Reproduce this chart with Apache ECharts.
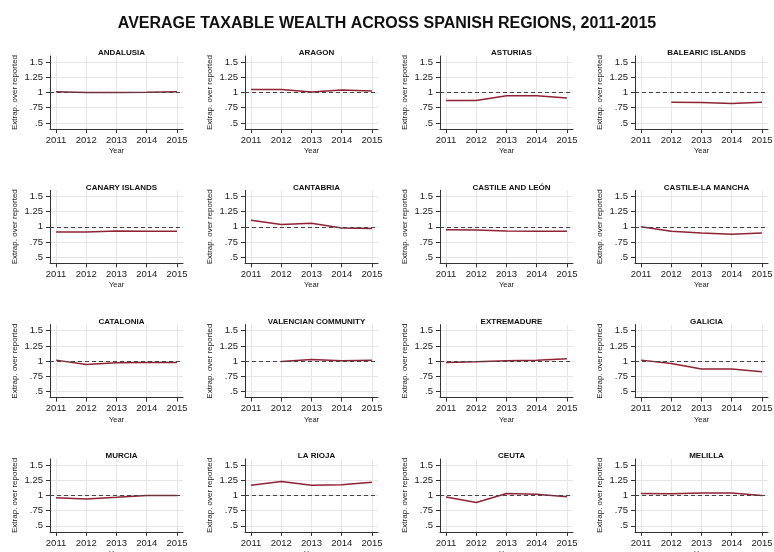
<!DOCTYPE html>
<html>
<head>
<meta charset="utf-8">
<script src="https://cdn.jsdelivr.net/npm/echarts@6/dist/echarts.min.js"></script>
<style>
html, body { margin: 0; padding: 0; background: #fff; }
#main { width: 774px; height: 552px; }
</style>
</head>
<body>
<div id="main"></div>
<script>
// years on the x axis
var years = [2011, 2012, 2013, 2014, 2015];
var yTicks = [0.5, 0.75, 1, 1.25, 1.5];

// panel titles, in grid order
var regions = ['ANDALUSIA', 'ARAGON', 'ASTURIAS', 'BALEARIC ISLANDS',
    'CANARY ISLANDS', 'CANTABRIA', 'CASTILE AND LEÓN', 'CASTILE-LA MANCHA',
    'CATALONIA', 'VALENCIAN COMMUNITY', 'EXTREMADURE', 'GALICIA',
    'MURCIA', 'LA RIOJA', 'CEUTA', 'MELILLA'];

// extrapolated over reported, per region
var andalusia = [1.012, 1.0, 1.0, 1.004, 1.012];
var aragon = [1.05, 1.05, 1.01, 1.04, 1.025];
var asturias = [0.87, 0.87, 0.945, 0.945, 0.91];
var balearic = [null, 0.84, 0.835, 0.818, 0.84];
var canary = [0.915, 0.915, 0.93, 0.925, 0.925];
var cantabria = [1.107, 1.037, 1.06, 0.98, 0.973];
var castileLeon = [0.95, 0.947, 0.93, 0.925, 0.925];
var castileMancha = [1.0, 0.925, 0.9, 0.877, 0.9];
var catalonia = [1.016, 0.946, 0.973, 0.978, 0.978];
var valencian = [null, 0.995, 1.027, 1.005, 1.016];
var extremadure = [0.978, 0.99, 1.005, 1.016, 1.038];
var galicia = [1.016, 0.962, 0.87, 0.87, 0.823];
var murcia = [0.962, 0.94, 0.968, 1.0, 1.0];
var laRioja = [1.167, 1.23, 1.167, 1.177, 1.215];
var ceuta = [0.973, 0.882, 1.032, 1.02, 0.978];
var melilla = [1.032, 1.027, 1.038, 1.038, 1.0];

var values = [andalusia, aragon, asturias, balearic,
    canary, cantabria, castileLeon, castileMancha,
    catalonia, valencian, extremadure, galicia,
    murcia, laRioja, ceuta, melilla];

(function () {
    var font = 'Liberation Sans, Arial, sans-serif';
    var lineColor = '#8f2233';
    var colLeft = [50, 245, 440, 635];
    var plotW = 133, plotH = 73, rowStep = 134.3, firstTop = 56;

    var grids = [], xAxes = [], yAxes = [], series = [];
    var titles = [{
        text: 'AVERAGE TAXABLE WEALTH ACROSS SPANISH REGIONS, 2011-2015',
        left: 'center',
        top: 11,
        textStyle: { fontFamily: font, fontSize: 16, fontWeight: 'bold', color: '#111' }
    }];

    for (var i = 0; i < regions.length; i++) {
        var r = Math.floor(i / 4), c = i % 4;
        var gridTop = firstTop + r * rowStep;
        // fixed panel boxes, no auto fitting of labels
        grids.push({
            left: colLeft[c], top: gridTop, width: plotW, height: plotH,
            containLabel: false, outerBoundsMode: 'none'
        });
        titles.push({
            text: regions[i],
            left: colLeft[c] + plotW / 2,
            top: gridTop - 12,
            textAlign: 'center',
            textStyle: { fontFamily: font, fontSize: 8, fontWeight: 'bold', color: '#111' }
        });
        xAxes.push({
            type: 'value', gridIndex: i, min: 2010.8, max: 2015.2,
            name: 'Year', nameLocation: 'middle', nameGap: 18,
            nameTextStyle: { fontFamily: font, fontSize: 7.5, color: '#222' },
            axisLine: { onZero: false, lineStyle: { color: '#333', width: 1 } },
            axisTick: { customValues: years.slice(), length: 4, lineStyle: { color: '#333' } },
            axisLabel: {
                customValues: years.slice(), margin: 6,
                fontFamily: font, fontSize: 9.5, color: '#222',
                formatter: function (v) { return String(v); }
            },
            splitLine: { show: true, lineStyle: { color: '#e6e6e6', width: 1 } }
        });
        yAxes.push({
            type: 'value', gridIndex: i, min: 0.4, max: 1.6,
            name: 'Extrap. over reported', nameLocation: 'middle', nameGap: 31,
            nameTextStyle: { fontFamily: font, fontSize: 8, color: '#222' },
            axisLine: { show: true, onZero: false, lineStyle: { color: '#333', width: 1 } },
            axisTick: { show: true, customValues: yTicks.slice(), length: 4, lineStyle: { color: '#333' } },
            axisLabel: {
                customValues: yTicks.slice(), margin: 7,
                fontFamily: font, fontSize: 9.5, color: '#222',
                formatter: function (v) { return String(v).replace(/^0\./, '.'); }
            },
            splitLine: { show: true, lineStyle: { color: '#e6e6e6', width: 1 } }
        });
        series.push({
            type: 'line', xAxisIndex: i, yAxisIndex: i,
            data: years.map(function (y, k) { return [y, values[i][k]]; }),
            showSymbol: false, connectNulls: false,
            lineStyle: { color: lineColor, width: 1.5 },
            itemStyle: { color: lineColor },
            markLine: {
                silent: true, symbol: 'none',
                label: { show: false },
                data: [{ yAxis: 1 }],
                lineStyle: { color: '#444', width: 1.2, type: [4, 3] }
            }
        });
    }

    var myChart = echarts.init(document.getElementById('main'));
    myChart.setOption({
        backgroundColor: '#fff',
        animation: false,
        title: titles,
        grid: grids,
        xAxis: xAxes,
        yAxis: yAxes,
        series: series
    });
})();
</script>
</body>
</html>
